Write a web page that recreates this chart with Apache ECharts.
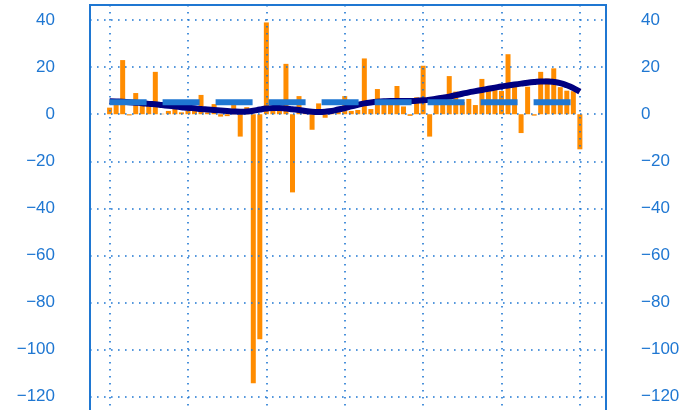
<!DOCTYPE html>
<html>
<head>
<meta charset="utf-8">
<script src="https://cdn.jsdelivr.net/npm/echarts@6/dist/echarts.min.js"></script>
<style>
    html, body { margin: 0; padding: 0; overflow: hidden; background: #fff; }
    #chart { width: 699px; height: 460px; }
</style>
</head>
<body>
<div id="chart"></div>
<script>
// monthly values, 73 months
const barValues = [
    2.8, 4, 23, -0.5, 9, 4.5, 4, 18, 0.2, 1.4,
    2.2, 0.8, 1.5, 2.2, 8.2, 0.8, 4.3, -1, -0.8, 4,
    -9.5, 3, -114.3, -95.6, 39, 2, 1.5, 21.4, -33.2, 7.7,
    0.8, -6.6, 4.6, -1.5, 0.4, 1, 7.7, 1.4, 1.8, 23.7,
    2.2, 10.7, 4, 4, 12, 3.3, -0.7, 7.2, 20.6, -9.5,
    4, 4, 16.2, 9.6, 5.2, 6.5, 3.9, 15, 10, 10.5,
    9.9, 25.5, 11.7, -8, 11.7, -0.6, 18, 15.2, 19.5, 11.5,
    10, 9.8, -14.9
];

const trendValues = [
    5.5, 5.4, 5.3, 5.1, 4.9, 4.7, 4.4, 4.2, 3.9, 3.6,
    3.3, 3.0, 2.7, 2.5, 2.2, 2.0, 1.8, 1.6, 1.4, 1.2,
    1.1, 1.2, 1.5, 2.0, 2.4, 2.6, 2.6, 2.4, 2.1, 1.8,
    1.4, 1.1, 1.0, 1.1, 1.4, 2.0, 2.6, 3.3, 4.0, 4.6,
    5.0, 5.3, 5.5, 5.6, 5.6, 5.6, 5.6, 5.7, 5.9, 6.2,
    6.6, 7.0, 7.5, 8.1, 8.7, 9.3, 9.8, 10.3, 10.8, 11.3,
    11.8, 12.2, 12.6, 13.0, 13.4, 13.7, 13.9, 13.9, 13.7, 13.2,
    12.3, 11.1, 9.6
];

const referenceLevel = [5.05, 5.05];

// empty slots before / after the data so the frame has some room
const leadSlots = 3;
const tailSlots = 4;
const slots = [];
for (let i = 0; i < leadSlots + barValues.length + tailSlots; i++) {
    slots.push('m' + (i - leadSlots));
}

const blue = '#1f77d2';
const minus = v => (v < 0 ? '\u2212' + Math.abs(v) : String(v));
const yLabel = v => (Math.abs(v % 20) < 1e-6 ? minus(v) : '');

const chart = echarts.init(document.getElementById('chart'));

const yAxisBase = {
    type: 'value',
    min: -140,
    max: 46.4,
    interval: 20,
    z: 3,
    axisLine: { show: false },
    axisTick: { show: false },
    axisLabel: {
        color: blue,
        fontSize: 17,
        fontFamily: 'Liberation Sans, Arial, sans-serif',
        margin: 35,
        showMaxLabel: false,
        formatter: yLabel
    }
};

chart.setOption({
    animation: false,
    grid: {
        left: 90,
        top: 5,
        width: 516,
        height: 438.8,
        show: true,
        borderColor: blue,
        borderWidth: 2,
        backgroundColor: 'transparent'
    },
    xAxis: {
        type: 'category',
        data: slots,
        boundaryGap: false,
        z: 3,
        axisLine: { show: false },
        axisTick: { show: false },
        axisLabel: { show: false },
        splitLine: {
            show: true,
            interval: idx => idx >= leadSlots && (idx - leadSlots) % 12 === 0 && idx < leadSlots + barValues.length,
            lineStyle: { color: blue, width: 1.6, type: [1.6, 5.4] }
        }
    },
    yAxis: [
        Object.assign({}, yAxisBase, {
            position: 'left',
            splitLine: { show: true, lineStyle: { color: blue, width: 1.6, type: [1.6, 5.4] } }
        }),
        Object.assign({}, yAxisBase, {
            position: 'right',
            splitLine: { show: false }
        })
    ],
    series: [
        {
            type: 'bar',
            data: barValues.map((v, i) => [i + leadSlots, v]),
            barWidth: 5,
            z: 2,
            itemStyle: { color: '#ff8c00' }
        },
        {
            type: 'line',
            data: trendValues.map((v, i) => [i + leadSlots, v]),
            smooth: true,
            showSymbol: false,
            z: 4,
            lineStyle: { color: '#000080', width: 6 }
        },
        {
            type: 'line',
            data: [[leadSlots, referenceLevel[0]], [leadSlots + barValues.length - 1, referenceLevel[1]]],
            showSymbol: false,
            z: 5,
            lineStyle: { color: blue, width: 6, type: [37, 16], cap: 'butt' }
        }
    ]
});
</script>
</body>
</html>
